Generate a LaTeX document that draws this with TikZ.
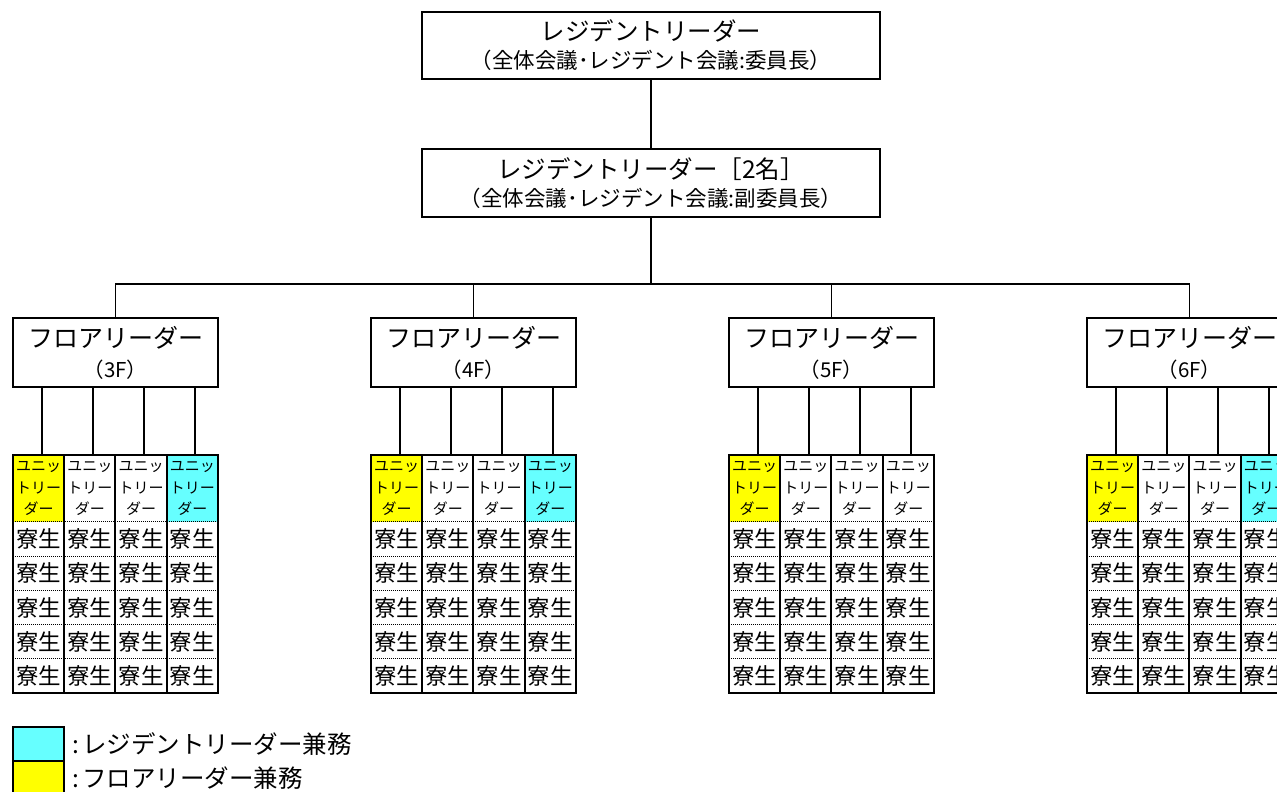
\documentclass[tikz,border=0pt]{standalone}
\usepackage{fontspec}
\setmainfont{Noto Sans CJK JP}
\definecolor{cyanc}{RGB}{102,255,255}
\definecolor{yelc}{RGB}{255,255,0}
\begin{document}
\begin{tikzpicture}[x=1pt,y=-1pt,
  bigbox/.style={draw, line width=2pt, rectangle, inner sep=0pt, align=center, fill=white},
  conn/.style={line width=1.5pt},
  hdrcell/.style={rectangle, inner sep=0pt, minimum width=51.25pt, minimum height=67pt, align=center, font=\fontsize{15}{21.5}\selectfont},
  rowcell/.style={rectangle, inner sep=0pt, minimum width=51.25pt, minimum height=34.2pt, font=\fontsize{22.5}{24}\selectfont},
  gridline/.style={line width=2pt},
  rowsep/.style={line width=1pt, dash pattern=on 1pt off 1pt},
  legbox/.style={draw, line width=2pt, rectangle, inner sep=0pt, minimum width=51pt, minimum height=34pt}]
\fill[white] (0,0) rectangle (1277,792);
\useasboundingbox (0,0) rectangle (1277,792);

% top boxes
\node[bigbox, minimum width=458pt, minimum height=67pt, font=\fontsize{24.5}{28}\selectfont] (rl1) at (651,45.5)
  {レジデントリーダー\\{\fontsize{21.5}{28}\selectfont （全体会議･レジデント会議:委員長）}};
\node[bigbox, minimum width=458pt, minimum height=68pt, font=\fontsize{24.5}{28}\selectfont] (rl2) at (651,183)
  {レジデントリーダー［2名］\\{\fontsize{21.5}{28}\selectfont （全体会議･レジデント会議:副委員長）}};
\draw[conn] (rl1) -- (rl2);
\coordinate (j) at (651,284);
\draw[conn] (rl2) -- (j);

% floors
\foreach \f/\lastcol in {3/cyanc,4/cyanc,5/white,6/cyanc}{
  \pgfmathsetmacro{\xo}{13+358*(\f-3)}
  \node[bigbox, minimum width=205pt, minimum height=69pt, font=\fontsize{25}{30}\selectfont] (fl\f) at (\xo+102.5,352.5)
    {フロアリーダー\\{\fontsize{20.5}{30}\selectfont （\f F）}};
  \draw[conn] (fl\f.north) |- (j);
  \foreach \c in {0,1,2,3}{
    \pgfmathsetmacro{\cx}{\xo+51.25*\c+25.625}
    \pgfmathsetmacro{\lx}{round(\xo+51*\c+29)}
    \ifnum\c=0 \def\cc{yelc}\else\ifnum\c=3 \def\cc{\lastcol}\else\def\cc{white}\fi\fi
    \node[hdrcell, fill=\cc] (h\f-\c) at (\cx,488.5) {ユニッ\\トリー\\ダー};
    \foreach \r in {0,...,4}{
      \node[rowcell] (r\f-\c-\r) at (\cx,539.1+34.2*\r) {寮生};
    }
    \coordinate (t\f-\c) at (\lx,455);
    \draw[conn] (t\f-\c) -- (t\f-\c |- fl\f.south);
  }
  \foreach \r in {0,...,4}{
    \draw[rowsep] (r\f-0-\r.north west) -- (r\f-3-\r.north east);
  }
  \foreach \c in {1,2,3}{
    \draw[gridline] (h\f-\c.north west) -- (r\f-\c-4.south west);
  }
  \draw[gridline] (h\f-0.north west) rectangle (r\f-3-4.south east);
}

% legend
\node[legbox, fill=cyanc] (lc) at (38.5,744) {};
\node[legbox, fill=yelc] (ly) at (38.5,778) {};
\node[anchor=west, inner sep=0pt, font=\fontsize{24.5}{28}\selectfont] (lt1) at (lc.east) {\hspace{7pt}:\hspace{3pt}レジデントリーダー兼務};
\node[anchor=west, inner sep=0pt, font=\fontsize{24.5}{28}\selectfont] (lt2) at (ly.east) {\hspace{7pt}:\hspace{3pt}フロアリーダー兼務};
\end{tikzpicture}
\end{document}
